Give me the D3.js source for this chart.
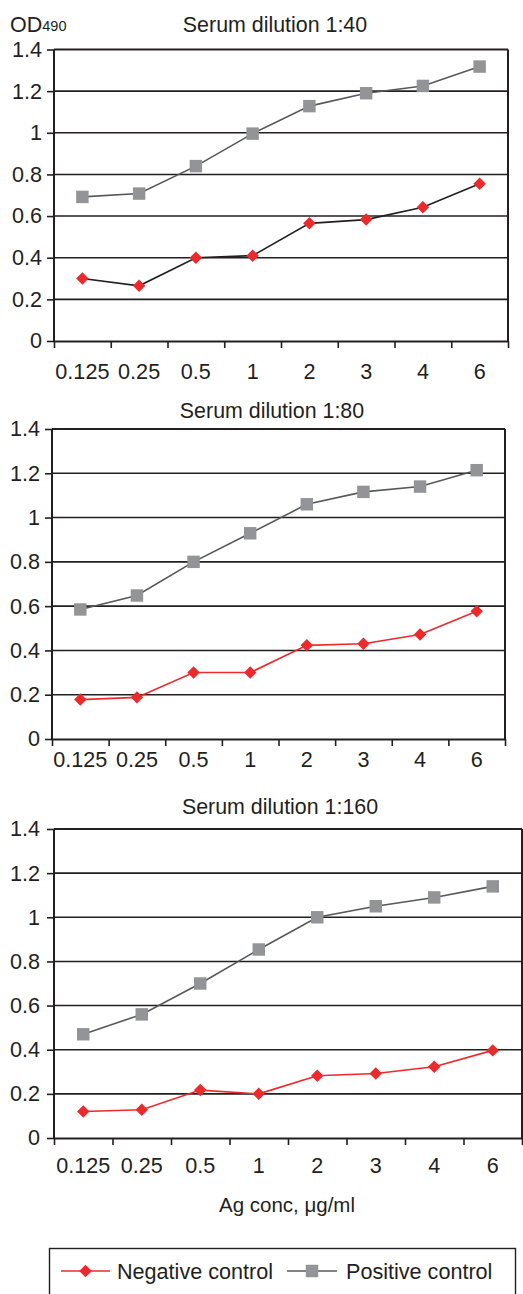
<!DOCTYPE html>
<html>
<head>
<meta charset="utf-8">
<script src="https://cdn.jsdelivr.net/npm/d3@7"></script>
<style>
  html, body { margin: 0; padding: 0; background: #fff; }
  svg { display: block; font-family: "Liberation Sans", Arial, sans-serif; }
</style>
</head>
<body>
<svg id="chart" width="523" height="1294"></svg>
<script>
// ---- data ----
const categories = ["0.125", "0.25", "0.5", "1", "2", "3", "4", "6"];
const yTicks = [0, 0.2, 0.4, 0.6, 0.8, 1, 1.2, 1.4];
const yTickLabels = ["0", "0.2", "0.4", "0.6", "0.8", "1", "1.2", "1.4"];
const panelTitles = ["Serum dilution 1:40", "Serum dilution 1:80", "Serum dilution 1:160"];
const seriesNames = ["Negative control", "Positive control"];

const negative40  = [0.30, 0.265, 0.40, 0.41, 0.565, 0.583, 0.642, 0.755];
const positive40  = [0.692, 0.708, 0.840, 0.996, 1.128, 1.190, 1.225, 1.318];
const negative80  = [0.178, 0.188, 0.300, 0.300, 0.423, 0.430, 0.472, 0.577];
const positive80  = [0.585, 0.648, 0.800, 0.929, 1.060, 1.116, 1.140, 1.214];
const negative160 = [0.120, 0.128, 0.217, 0.200, 0.282, 0.292, 0.323, 0.397];
const positive160 = [0.470, 0.560, 0.700, 0.854, 1.000, 1.050, 1.090, 1.140];

const yLabel = "OD";
const ySub = "490";
const xTitle = "Ag conc, \u03BCg/ml";

// ---- layout / styles ----
const RED = "#ec2a2c";
const GRAY_FILL = "#929497";
const GRAY_LINE = "#57585a";
const INK = "#231f20";
const FONT = 21.6;

const panels = [
  { title: panelTitles[0], neg: negative40,  pos: positive40,  left: 54, right: 508, top: 49.5, bottom: 341, titleY: 32,  titleX: 275, labelY: 379, yLabelX: 42, negLine: INK },
  { title: panelTitles[1], neg: negative80,  pos: positive80,  left: 52, right: 505, top: 429,  bottom: 739, titleY: 418, titleX: 272, labelY: 767, yLabelX: 40, negLine: RED },
  { title: panelTitles[2], neg: negative160, pos: positive160, left: 54, right: 522, top: 829,  bottom: 1138, titleY: 814, titleX: 280, labelY: 1173, yLabelX: 40, negLine: RED }
];

const svg = d3.select("#chart");

const diamond = d3.symbol().type(d3.symbolSquare).size(78)();
const square = d3.symbol().type(d3.symbolSquare).size(155)();

panels.forEach(p => {
  const g = svg.append("g");
  const y = d3.scaleLinear().domain([0, 1.4]).range([p.bottom, p.top]);
  const x = d3.scaleBand().domain(categories).range([p.left, p.right]);
  const xEdge = d3.scaleLinear().domain([0, categories.length]).range([p.left, p.right]);

  // gridlines (excluding 0 and top)
  g.append("g").selectAll("line")
    .data(yTicks.filter(v => v > 0 && v < 1.4))
    .join("line")
    .attr("x1", p.left).attr("x2", p.right)
    .attr("y1", d => y(d)).attr("y2", d => y(d))
    .attr("stroke", INK).attr("stroke-width", 1.6);

  // frame: top, right
  g.append("line").attr("x1", p.left).attr("x2", p.right)
    .attr("y1", y(1.4)).attr("y2", y(1.4)).attr("stroke", INK).attr("stroke-width", 2);
  g.append("line").attr("x1", p.right).attr("x2", p.right)
    .attr("y1", y(1.4)).attr("y2", y(0)).attr("stroke", INK).attr("stroke-width", 2);

  // y axis
  const yAxis = d3.axisLeft(y).tickValues(yTicks)
    .tickFormat((d, i) => yTickLabels[i]).tickSize(7).tickPadding(5);
  const ya = g.append("g").attr("transform", `translate(${p.left},0)`).call(yAxis);
  ya.select(".domain").attr("stroke", INK).attr("stroke-width", 2).attr("d", `M0,${y(1.4)}V${y(0)}`);
  ya.selectAll(".tick line").attr("stroke", INK).attr("stroke-width", 1.6);
  ya.selectAll(".tick text").attr("fill", INK).style("font-size", FONT + "px")
    .style("font-family", "Liberation Sans, Arial, sans-serif")
    .attr("x", p.yLabelX - p.left);

  // x axis edge ticks
  const xAxis = d3.axisBottom(xEdge).tickValues(d3.range(categories.length + 1))
    .tickFormat("").tickSize(7).tickSizeOuter(0);
  const xa = g.append("g").attr("transform", `translate(0,${y(0)})`).call(xAxis);
  xa.select(".domain").attr("stroke", INK).attr("stroke-width", 2);
  xa.selectAll(".tick line").attr("stroke", INK).attr("stroke-width", 1.6);

  // x labels at band centers
  const xl = d3.axisBottom(x).tickSize(0).tickPadding(0);
  const xla = g.append("g").attr("transform", `translate(0,0)`).call(xl);
  xla.select(".domain").remove();
  xla.selectAll(".tick text").attr("fill", INK).attr("y", p.labelY).attr("dy", 0)
    .style("font-size", FONT + "px").style("font-family", "Liberation Sans, Arial, sans-serif");

  // title
  g.append("text").attr("x", p.titleX).attr("y", p.titleY).attr("text-anchor", "middle")
    .attr("fill", INK).style("font-size", "21.4px").text(p.title);

  const cx = (d, i) => x(categories[i]) + x.bandwidth() / 2;
  const line = d3.line().x(cx).y(d => y(d));

  // positive series
  g.append("path").datum(p.pos).attr("d", line).attr("fill", "none")
    .attr("stroke", GRAY_LINE).attr("stroke-width", 1.6);
  g.append("g").selectAll("path").data(p.pos).join("path")
    .attr("d", square).attr("fill", GRAY_FILL)
    .attr("transform", (d, i) => `translate(${cx(d, i)},${y(d)})`);

  // negative series
  g.append("path").datum(p.neg).attr("d", line).attr("fill", "none")
    .attr("stroke", p.negLine).attr("stroke-width", 1.6);
  g.append("g").selectAll("path").data(p.neg).join("path")
    .attr("d", diamond).attr("fill", RED)
    .attr("transform", (d, i) => `translate(${cx(d, i)},${y(d)}) rotate(45)`);
});

// y label OD490
const yl = svg.append("text").attr("x", 10).attr("y", 32).attr("fill", INK).style("font-size", "21.5px");
yl.append("tspan").text(yLabel);
yl.append("tspan").attr("dy", -1).style("font-size", "14.5px").text(ySub);

// x title
svg.append("text").attr("x", 287).attr("y", 1212).attr("text-anchor", "middle")
  .attr("fill", INK).style("font-size", "20.5px").text(xTitle);

// legend
const lg = svg.append("g");
lg.append("rect").attr("x", 49.5).attr("y", 1248.5).attr("width", 466).attr("height", 60)
  .attr("fill", "none").attr("stroke", INK).attr("stroke-width", 1.4);
const legendItems = [
  { name: seriesNames[0], x1: 61, x2: 110, text: 117, color: RED, shape: diamond, fill: RED, rot: 45 },
  { name: seriesNames[1], x1: 287, x2: 337, text: 346, color: GRAY_LINE, shape: square, fill: GRAY_FILL, rot: 0 }
];
legendItems.forEach(it => {
  lg.append("line").attr("x1", it.x1).attr("x2", it.x2).attr("y1", 1271).attr("y2", 1271)
    .attr("stroke", it.color).attr("stroke-width", 1.6);
  lg.append("path").attr("d", it.shape).attr("fill", it.fill)
    .attr("transform", `translate(${(it.x1 + it.x2) / 2},1271) rotate(${it.rot})`);
  lg.append("text").attr("x", it.text).attr("y", 1279).attr("fill", INK)
    .style("font-size", "21.6px").text(it.name);
});
</script>
</body>
</html>
